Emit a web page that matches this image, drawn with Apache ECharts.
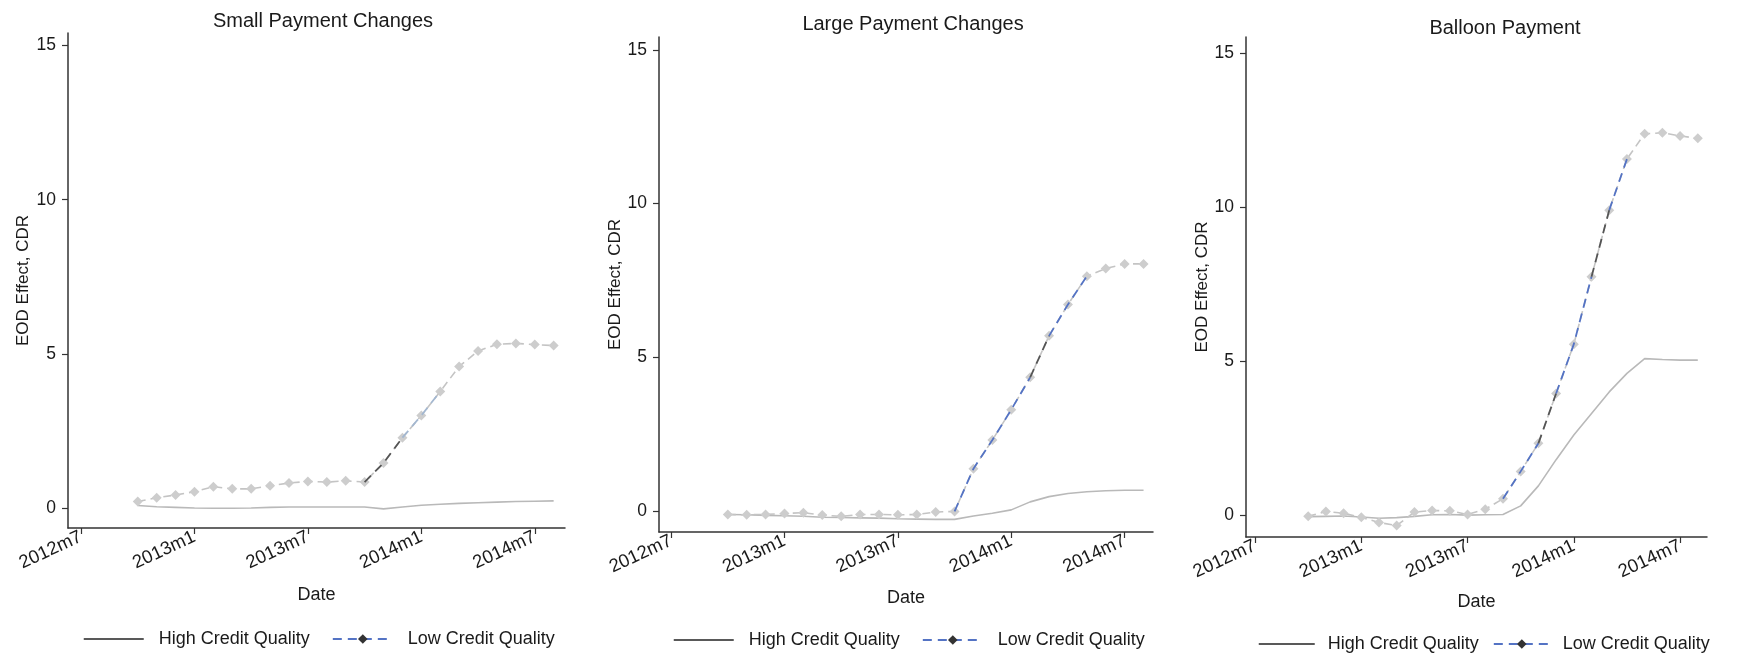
<!DOCTYPE html>
<html>
<head>
<meta charset="utf-8">
<script src="https://cdn.jsdelivr.net/npm/echarts@6/dist/echarts.min.js"></script>
<style>
  html, body { margin: 0; padding: 0; background: #ffffff; }
  #chart { width: 1761px; height: 653px; }
</style>
</head>
<body>
<div id="chart"></div>
<script>
// Monthly observation dates (Stata-style monthly labels)
const periods = [
  '2012m10', '2012m11', '2012m12',
  '2013m1', '2013m2', '2013m3', '2013m4', '2013m5', '2013m6',
  '2013m7', '2013m8', '2013m9', '2013m10', '2013m11', '2013m12',
  '2014m1', '2014m2', '2014m3', '2014m4', '2014m5', '2014m6', '2014m7', '2014m8'
];

// Axis tick labels
const xTickLabels = ['2012m7', '2013m1', '2013m7', '2014m1', '2014m7'];
const yTickValues = [0, 5, 10, 15];

// EOD effect on CDR, small payment changes
const smallHigh = [0.08, 0.04, 0.02, 0.00, -0.01, -0.01, 0.00, 0.02, 0.03, 0.03, 0.03, 0.03,
                   0.03, -0.03, 0.03, 0.09, 0.12, 0.15, 0.17, 0.19, 0.21, 0.22, 0.23];
const smallLow  = [0.21, 0.33, 0.42, 0.53, 0.69, 0.62, 0.62, 0.72, 0.81, 0.86, 0.84, 0.88,
                   0.84, 1.46, 2.28, 3.00, 3.78, 4.59, 5.09, 5.31, 5.34, 5.30, 5.27];

// EOD effect on CDR, large payment changes
const largeHigh = [-0.11, -0.12, -0.14, -0.15, -0.17, -0.20, -0.21, -0.22, -0.23, -0.25, -0.26, -0.27,
                   -0.27, -0.16, -0.07, 0.04, 0.30, 0.47, 0.57, 0.63, 0.66, 0.68, 0.68];
const largeLow  = [-0.11, -0.12, -0.11, -0.08, -0.05, -0.13, -0.17, -0.11, -0.11, -0.12, -0.11, -0.03,
                   -0.01, 1.38, 2.31, 3.30, 4.35, 5.70, 6.72, 7.64, 7.89, 8.04, 8.04];

// EOD effect on CDR, balloon payment
const balloonHigh = [-0.05, -0.04, -0.03, -0.06, -0.10, -0.08, -0.04, 0.01, 0.02, 0.00, 0.01, 0.02,
                     0.30, 0.95, 1.80, 2.60, 3.30, 4.00, 4.60, 5.08, 5.05, 5.03, 5.03];
const balloonLow  = [-0.04, 0.12, 0.06, -0.07, -0.24, -0.34, 0.10, 0.15, 0.14, 0.02, 0.19, 0.53,
                     1.42, 2.33, 3.95, 5.55, 7.74, 9.90, 11.56, 12.38, 12.41, 12.31, 12.23];

const HIGH = 'High Credit Quality';
const LOW = 'Low Credit Quality';
const FONT = '"Liberation Sans", Arial, Helvetica, sans-serif';
const INK = '#1a1a1a';

// months elapsed since 2012m7, used as the x coordinate
function monthIndex(label) {
  const [y, m] = label.split('m').map(Number);
  return (y - 2012) * 12 + (m - 7);
}
const xTickValues = xTickLabels.map(monthIndex);

function pairs(values) {
  return periods.map((p, i) => [monthIndex(p), values[i]]);
}
function slice(values, from, to) {
  const a = periods.indexOf(from), b = periods.indexOf(to);
  return periods.slice(a, b + 1).map((p, k) => [monthIndex(p), values[a + k]]);
}

const BLUE = '#5473c4';
const DARK = '#555555';
const PALE_BLUE = '#a3b7d0';

const panels = [
  {
    title: 'Small Payment Changes', high: smallHigh, low: smallLow,
    titleX: 318, titleTop: 6,
    grid: { left: 68, top: 33, width: 497, height: 495 },
    xMin: -0.69, xMax: 25.6, yMin: -0.65, yMax: 15.41,
    yNameGap: 36, xNameGap: 58,
    legend: { left: 78, top: 625, itemWidth: 60, itemGap: 22, pad: 10 },
    accents: [
      { from: '2013m10', to: '2013m12', color: DARK },
      { from: '2013m12', to: '2014m2', color: PALE_BLUE }
    ]
  },
  {
    title: 'Large Payment Changes', high: largeHigh, low: largeLow,
    titleX: 908, titleTop: 9,
    grid: { left: 659, top: 37, width: 494, height: 495 },
    xMin: -0.64, xMax: 25.5, yMin: -0.68, yMax: 15.42,
    yNameGap: 35, xNameGap: 57,
    legend: { left: 668, top: 626, itemWidth: 60, itemGap: 22, pad: 10 },
    accents: [
      { from: '2013m10', to: '2014m2', color: BLUE },
      { from: '2014m2', to: '2014m3', color: DARK },
      { from: '2014m3', to: '2014m5', color: BLUE }
    ]
  },
  {
    title: 'Balloon Payment', high: balloonHigh, low: balloonLow,
    titleX: 1500, titleTop: 13,
    grid: { left: 1246, top: 37, width: 461, height: 500 },
    xMin: -0.51, xMax: 25.52, yMin: -0.71, yMax: 15.52,
    yNameGap: 32, xNameGap: 56,
    legend: { left: 1253, top: 630, itemWidth: 56, itemGap: 14, pad: 8 },
    accents: [
      { from: '2013m9', to: '2013m11', color: BLUE },
      { from: '2013m11', to: '2013m12', color: DARK },
      { from: '2013m12', to: '2014m2', color: BLUE },
      { from: '2014m2', to: '2014m3', color: DARK },
      { from: '2014m3', to: '2014m4', color: BLUE }
    ]
  }
];

const axisLine = { show: true, onZero: false, lineStyle: { color: '#333333', width: 1.5 } };

const option = {
  backgroundColor: '#ffffff',
  animation: false,
  textStyle: { fontFamily: FONT },
  title: panels.map(p => ({
    text: p.title, left: p.titleX, top: p.titleTop, textAlign: 'center',
    textStyle: { fontSize: 20, fontWeight: 'normal', color: INK, fontFamily: FONT }
  })),
  grid: panels.map(p => Object.assign({ containLabel: false }, p.grid)),
  xAxis: panels.map((p, i) => ({
    type: 'value', gridIndex: i, min: p.xMin, max: p.xMax,
    name: 'Date', nameLocation: 'middle', nameGap: p.xNameGap,
    nameTextStyle: { fontSize: 18, color: INK, fontFamily: FONT },
    axisLine: axisLine,
    axisTick: { show: true, length: 6, customValues: xTickValues, lineStyle: { color: '#333333', width: 1.2 } },
    axisLabel: {
      customValues: xTickValues, rotate: 25, margin: 8, fontSize: 18.5, color: INK, fontFamily: FONT,
      formatter: v => xTickLabels[xTickValues.indexOf(Math.round(v))] || ''
    },
    splitLine: { show: false }
  })),
  yAxis: panels.map((p, i) => ({
    type: 'value', gridIndex: i, min: p.yMin, max: p.yMax,
    name: 'EOD Effect, CDR', nameLocation: 'middle', nameGap: p.yNameGap,
    nameTextStyle: { fontSize: 17, color: INK, fontFamily: FONT },
    axisLine: axisLine,
    axisTick: { show: true, length: 6, customValues: yTickValues, lineStyle: { color: '#333333', width: 1.2 } },
    axisLabel: { customValues: yTickValues, margin: 12, fontSize: 17.5, color: INK, fontFamily: FONT },
    splitLine: { show: false }
  })),
  legend: panels.map(p => ({
    left: p.legend.left, top: p.legend.top, orient: 'horizontal',
    itemWidth: p.legend.itemWidth, itemHeight: 12, itemGap: p.legend.itemGap,
    selectedMode: false,
    textStyle: { fontSize: 18, color: INK, fontFamily: FONT, padding: [0, 0, 0, p.legend.pad] },
    data: [
      { name: HIGH, itemStyle: { opacity: 0 }, lineStyle: { color: '#222222', width: 1.5, type: 'solid' } },
      { name: LOW, itemStyle: { color: '#333333' }, lineStyle: { color: BLUE, width: 2, type: [9, 6] } }
    ]
  })),
  series: []
};

panels.forEach((p, i) => {
  option.series.push({
    name: HIGH, type: 'line', xAxisIndex: i, yAxisIndex: i,
    data: pairs(p.high), symbol: 'none', z: 2,
    lineStyle: { color: '#b9b9b9', width: 1.6 }
  });
  option.series.push({
    name: LOW, type: 'line', xAxisIndex: i, yAxisIndex: i,
    data: pairs(p.low), symbol: 'diamond', symbolSize: 10, showSymbol: true, z: 3,
    itemStyle: { color: '#cdcdcd' },
    lineStyle: { color: '#c4c4c4', width: 1.6, type: [8, 5] }
  });
  p.accents.forEach((a, k) => {
    option.series.push({
      name: 'accent-' + i + '-' + k, type: 'line', xAxisIndex: i, yAxisIndex: i,
      data: slice(p.low, a.from, a.to), symbol: 'none', z: 4, silent: true,
      lineStyle: { color: a.color, width: 1.8, type: [9, 6] }
    });
  });
});

const chart = echarts.init(document.getElementById('chart'), null, { renderer: 'canvas' });
chart.setOption(option);
</script>
</body>
</html>
